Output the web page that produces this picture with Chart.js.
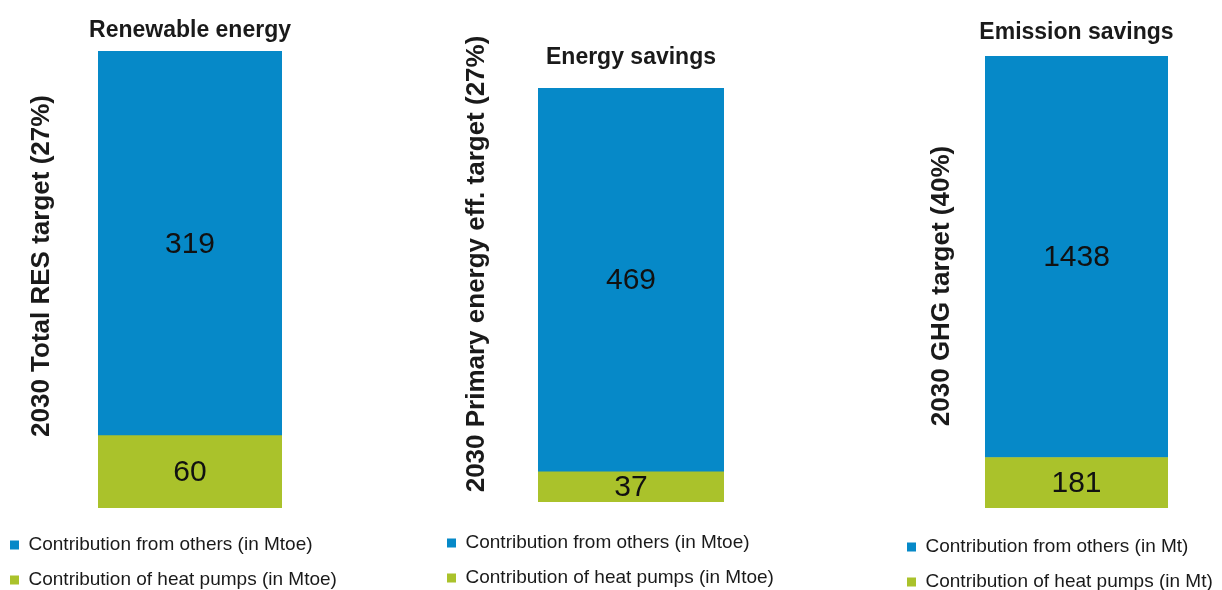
<!DOCTYPE html>
<html>
<head>
<meta charset="utf-8">
<script src="https://cdn.jsdelivr.net/npm/chart.js@4.4.1/dist/chart.umd.min.js"></script>
<style>
	html, body { margin: 0; padding: 0; background: #fff; overflow: hidden; }
	#wrap { position: relative; width: 1222px; height: 590px; overflow: hidden; }
	canvas { position: absolute; top: 0; }
</style>
</head>
<body>
<div id="wrap">
	<canvas id="c0" width="392" height="590" style="left:-6px"></canvas>
	<canvas id="c1" width="400" height="590" style="left:431px"></canvas>
	<canvas id="c2" width="371" height="590" style="left:891px"></canvas>
</div>
<script>
const panelTitles = ['Renewable energy', 'Energy savings', 'Emission savings'];
const axisTitles = [
	'2030 Total RES target (27%)',
	'2030 Primary energy eff. target (27%)',
	'2030 GHG target (40%)',
];
const othersValues = [319, 469, 1438];
const heatPumpValues = [60, 37, 181];
const othersLabels = [
	'Contribution from others (in Mtoe)',
	'Contribution from others (in Mtoe)',
	'Contribution from others (in Mt)',
];
const heatPumpLabels = [
	'Contribution of heat pumps (in Mtoe)',
	'Contribution of heat pumps (in Mtoe)',
	'Contribution of heat pumps (in Mt)',
];

const BLUE = '#0689c8';
const GREEN = '#aac22b';
const INK = '#1a1a1a';
const FONT = "'Liberation Sans', Arial, sans-serif";

// placement of each panel inside its canvas (px); the bar is centred in the canvas
const panels = [
	{id: 'c0', sideW: 104, titleTop: 17, titleBottom: 6.4, gap: 11.5, legendH: 70.5, side: [48, 266]},
	{id: 'c1', sideW: 107, titleTop: 44, titleBottom: 16.4, gap: 15.5, legendH: 72.5, side: [46, 264]},
	{id: 'c2', sideW: 94, titleTop: 19, titleBottom: 9.4, gap: 13.5, legendH: 68.5, side: [51, 286]},
];

Chart.defaults.font.family = FONT;

// value written in the middle of every bar segment
const barValues = {
	id: 'barValues',
	afterDatasetsDraw(chart) {
		let {ctx} = chart;
		ctx.save();
		ctx.font = '30px ' + FONT;
		ctx.fillStyle = '#111';
		ctx.textAlign = 'center';
		ctx.textBaseline = 'middle';
		chart.data.datasets.forEach((dataset, i) => {
			chart.getDatasetMeta(i).data.forEach((bar, j) => {
				let {x, y, base} = bar.getProps(['x', 'y', 'base'], true);
				ctx.fillText(dataset.data[j], x, (y + base) / 2 + 1);
			});
		});
		ctx.restore();
	},
};

// rotated title on the left of each panel
const sideTitle = {
	id: 'sideTitle',
	afterDraw(chart, args, opts) {
		let {ctx} = chart;
		ctx.save();
		ctx.translate(opts.x, opts.y);
		ctx.rotate(-Math.PI / 2);
		ctx.font = 'bold 26px ' + FONT;
		ctx.fillStyle = INK;
		ctx.textAlign = 'center';
		ctx.textBaseline = 'middle';
		ctx.fillText(opts.text, 0, 0);
		ctx.restore();
	},
};

const hidden = {
	grid: {display: false},
	border: {display: false},
	ticks: {display: false},
};

panels.forEach((p, i) => {
	new Chart(document.getElementById(p.id), {
		type: 'bar',
		data: {
			labels: [panelTitles[i]],
			datasets: [
				{label: heatPumpLabels[i], data: [heatPumpValues[i]], backgroundColor: GREEN},
				{label: othersLabels[i], data: [othersValues[i]], backgroundColor: BLUE},
			],
		},
		options: {
			responsive: false,
			animation: false,
			datasets: {
				bar: {barPercentage: 1, categoryPercentage: 1, borderWidth: 0},
			},
			layout: {padding: 0},
			scales: {
				x: {
					...hidden,
					stacked: true,
					afterFit: s => { s.height = p.gap; },
				},
				y: {
					...hidden,
					stacked: true,
					min: 0,
					max: heatPumpValues[i] + othersValues[i],
					afterFit: s => { s.width = p.sideW; },
				},
				yRight: {
					...hidden,
					type: 'linear',
					position: 'right',
					display: true,
					afterFit: s => { s.width = p.sideW; },
				},
			},
			plugins: {
				title: {
					display: true,
					text: panelTitles[i],
					color: INK,
					font: {size: 23, weight: 'bold'},
					padding: {top: p.titleTop, bottom: p.titleBottom},
				},
				legend: {
					position: 'bottom',
					align: 'start',
					reverse: true,
					maxHeight: p.legendH,
					labels: {boxWidth: 9, boxHeight: 9, padding: 16, color: INK, font: {size: 19}},
				},
				tooltip: {enabled: false},
				sideTitle: {text: axisTitles[i], x: p.side[0], y: p.side[1]},
			},
		},
		plugins: [barValues, sideTitle],
	});
});
</script>
</body>
</html>
